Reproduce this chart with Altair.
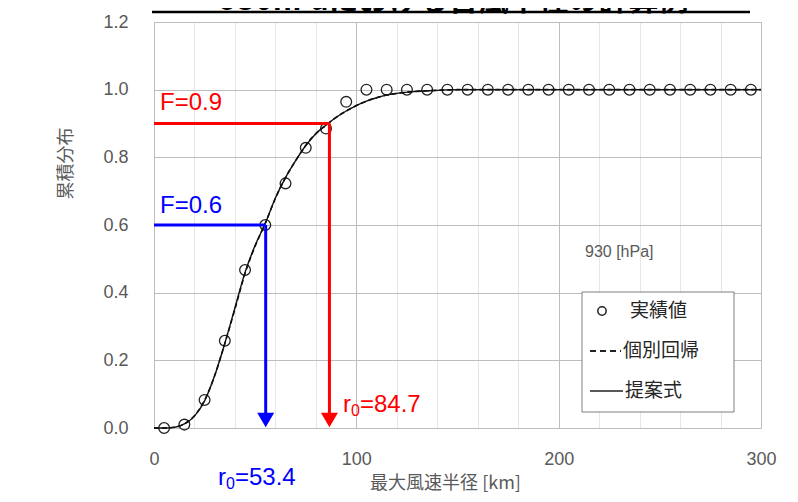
import altair as alt
import pandas as pd

# ---------------- data ----------------
obs_x = [5, 15, 25, 35, 45, 55, 65, 75, 85, 95, 105, 115, 125, 135, 145, 155, 165, 175,
         185, 195, 205, 215, 225, 235, 245, 255, 265, 275, 285, 295]
obs_y = [0.0, 0.01, 0.083, 0.258, 0.467, 0.6, 0.723, 0.828, 0.885, 0.964, 1.0, 1.0, 1.0, 1.0,
         1.0, 1.0, 1.0, 1.0, 1.0, 1.0, 1.0, 1.0, 1.0, 1.0, 1.0, 1.0, 1.0, 1.0, 1.0, 1.0]

curve_x = [0, 5, 10, 15, 20, 25, 30, 35, 40, 45, 50, 55, 60, 65, 70, 75, 80, 85, 90, 95,
           100, 105, 110, 115, 120, 130, 140, 150, 200, 250, 300]
fit_y = [0.0, 0.0, 0.002, 0.012, 0.036, 0.082, 0.155, 0.25, 0.352, 0.457, 0.538, 0.605,
         0.679, 0.74, 0.79, 0.835, 0.87, 0.895, 0.918, 0.937, 0.953, 0.966, 0.976, 0.984,
         0.989, 0.995, 0.998, 1.0, 1.0, 1.0, 1.0]
prop_y = [0.0, 0.0, 0.002, 0.012, 0.035, 0.08, 0.155, 0.25, 0.355, 0.46, 0.54, 0.605,
          0.68, 0.74, 0.79, 0.835, 0.87, 0.895, 0.918, 0.937, 0.953, 0.966, 0.976, 0.984,
          0.989, 0.995, 0.998, 1.0, 1.0, 1.0, 1.0]

levels_F = [0.6, 0.9]
levels_r = [55.2, 86.7]
level_colors = ["#0000ff", "#ff0000"]

f_labels = ["F=0.6", "F=0.9"]
f_label_x = [3.0, 3.0]
f_label_y = [0.656, 0.96]

r_values = ["=53.4", "=84.7"]
r_label_x = [31.6, 93.4]
r_label_y = [-0.148, 0.068]

x_ticks = list(range(0, 301, 10))
y_ticks = [0.0, 0.1, 0.2, 0.3, 0.4, 0.5, 0.6, 0.7, 0.8, 0.9, 1.0, 1.1, 1.2]

title_text = "930hPaにおける台風半径の計算例"
legend_labels = ["実績値", "個別回帰", "提案式"]
pressure_label = "930 [hPa]"

W, H = 607, 406
FONT = "Liberation Sans"
JFONT = "Noto Sans CJK JP"

# ---------------- frames ----------------
obs = pd.DataFrame({"x": obs_x, "y": obs_y})
curves = pd.DataFrame({"x": curve_x, "fit": fit_y, "prop": prop_y})

hseg = pd.DataFrame({"x": [0, 0], "x2": levels_r, "y": levels_F, "c": level_colors})
vseg = pd.DataFrame({"x": levels_r, "y": levels_F, "y2": [0.02, 0.02], "c": level_colors})
arrows = pd.DataFrame({"x": levels_r, "y": [0.0, 0.0], "c": level_colors})
flab = pd.DataFrame({"t": f_labels, "x": f_label_x, "y": f_label_y, "c": level_colors})
rlab = pd.DataFrame({"t": r_values, "x": r_label_x, "y": r_label_y, "c": level_colors})

xs = alt.Scale(domain=[0, 300], nice=False, zero=False)
ys = alt.Scale(domain=[0, 1.2], nice=False, zero=False)

x_axis = alt.Axis(
    values=x_ticks,
    labelExpr="datum.value % 50 === 0 ? datum.label : ''",
    grid=True,
    gridColor=alt.condition("datum.value % 50 === 0", alt.value("#bdbdbd"), alt.value("#e6e6e6")),
    gridWidth=1,
    ticks=False, tickSize=0, domain=False,
    labelFont=FONT, labelFontSize=18, labelColor="#595959", labelPadding=22,
    labelOverlap=False, labelFlush=False, labelBound=False,
    title="最大風速半径 [km]", titleFont=JFONT, titleFontSize=18, titleFontWeight="normal",
    titleColor="#595959", titleX=291, titleY=55, titleBaseline="middle",
)
y_axis = alt.Axis(
    values=y_ticks,
    labelExpr="round(datum.value * 10) % 2 === 0 ? format(datum.value, '.1f') : ''",
    grid=True,
    gridColor=alt.condition("round(datum.value * 10) % 2 === 0", alt.value("#bdbdbd"), alt.value("#e6e6e6")),
    gridWidth=1,
    ticks=False, tickSize=0, domain=False,
    labelFont=FONT, labelFontSize=18, labelColor="#595959", labelPadding=26,
    labelOverlap=False, labelFlush=False, labelBound=False,
    title="累積分布", titleFont=JFONT, titleFontSize=18, titleFontWeight="normal",
    titleColor="#595959", titleX=-88, titleY=141, titleAngle=-90, titleBaseline="middle",
    titleAlign="center",
)

base_obs = alt.Chart(obs).mark_point(
    shape="circle", filled=False, color="#222222", strokeWidth=1.3, size=115, opacity=1
).encode(
    x=alt.X("x:Q", scale=xs, axis=x_axis),
    y=alt.Y("y:Q", scale=ys, axis=y_axis),
)

prop_line = alt.Chart(curves).mark_line(
    color="#111111", strokeWidth=1.4, interpolate="monotone"
).encode(x=alt.X("x:Q", scale=xs), y=alt.Y("prop:Q", scale=ys))

fit_line = alt.Chart(curves).mark_line(
    color="#000000", strokeWidth=1.6, strokeDash=[5, 3], interpolate="monotone"
).encode(x=alt.X("x:Q", scale=xs), y=alt.Y("fit:Q", scale=ys))

h_rules = alt.Chart(hseg).mark_rule(strokeWidth=3).encode(
    x=alt.X("x:Q", scale=xs), x2="x2:Q", y=alt.Y("y:Q", scale=ys),
    color=alt.Color("c:N", scale=None),
)
v_rules = alt.Chart(vseg).mark_rule(strokeWidth=3).encode(
    x=alt.X("x:Q", scale=xs), y=alt.Y("y:Q", scale=ys), y2="y2:Q",
    color=alt.Color("c:N", scale=None),
)
arrow_heads = alt.Chart(arrows).mark_point(
    shape="triangle-down", filled=True, size=290, yOffset=-8, opacity=1
).encode(
    x=alt.X("x:Q", scale=xs), y=alt.Y("y:Q", scale=ys),
    color=alt.Color("c:N", scale=None),
)

f_text = alt.Chart(flab).mark_text(
    align="left", baseline="middle", font=FONT, fontSize=24
).encode(
    x=alt.X("x:Q", scale=xs), y=alt.Y("y:Q", scale=ys), text="t:N",
    color=alt.Color("c:N", scale=None),
)
r_main = alt.Chart(rlab).mark_text(
    align="left", baseline="middle", font=FONT, fontSize=24, text="r"
).encode(
    x=alt.X("x:Q", scale=xs), y=alt.Y("y:Q", scale=ys),
    color=alt.Color("c:N", scale=None),
)
r_sub = alt.Chart(rlab).mark_text(
    align="left", baseline="middle", font=FONT, fontSize=16, text="0", dx=8, dy=6
).encode(
    x=alt.X("x:Q", scale=xs), y=alt.Y("y:Q", scale=ys),
    color=alt.Color("c:N", scale=None),
)
r_rest = alt.Chart(rlab).mark_text(
    align="left", baseline="middle", font=FONT, fontSize=24, dx=17
).encode(
    x=alt.X("x:Q", scale=xs), y=alt.Y("y:Q", scale=ys), text="t:N",
    color=alt.Color("c:N", scale=None),
)

# pressure label and legend box (guide elements positioned in pixels)
press = alt.Chart(pd.DataFrame({"t": [pressure_label]})).mark_text(
    align="left", baseline="middle", font=FONT, fontSize=16, color="#595959"
).encode(x=alt.value(431), y=alt.value(230), text="t:N")

leg_box = alt.Chart(pd.DataFrame({"a": [0]})).mark_rect(
    fill="white", stroke="#7f7f7f", strokeWidth=1
).encode(x=alt.value(428), x2=alt.value(580), y=alt.value(270), y2=alt.value(390))
leg_circle = alt.Chart(pd.DataFrame({"a": [0]})).mark_point(
    shape="circle", filled=False, color="#222222", strokeWidth=1.5, size=70, opacity=1
).encode(x=alt.value(448), y=alt.value(289))
leg_dash = alt.Chart(pd.DataFrame({"a": [0]})).mark_rule(
    color="#222222", strokeWidth=2, strokeDash=[6, 4]
).encode(x=alt.value(436), x2=alt.value(467), y=alt.value(329))
leg_solid = alt.Chart(pd.DataFrame({"a": [0]})).mark_rule(
    color="#222222", strokeWidth=1.5
).encode(x=alt.value(436), x2=alt.value(469), y=alt.value(369))
leg_text = alt.Chart(pd.DataFrame({
    "t": legend_labels, "px": [476, 469, 471], "py": [289, 329, 369]
})).mark_text(
    align="left", baseline="middle", font=JFONT, fontSize=19, color="#262626"
).encode(x=alt.X("px:Q", scale=None), y=alt.Y("py:Q", scale=None), text="t:N")

# page title (mostly above the visible area, as in the reference)
title_t = alt.Chart(pd.DataFrame({"t": [title_text]})).mark_text(
    align="center", baseline="alphabetic", font=JFONT, fontSize=30, fontWeight="bold",
    color="#000000"
).encode(x=alt.value(300), y=alt.value(-12), text="t:N")
title_ul = alt.Chart(pd.DataFrame({"a": [0]})).mark_rule(
    color="#000000", strokeWidth=2.5
).encode(x=alt.value(-2), x2=alt.value(596), y=alt.value(-10))

chart = alt.layer(
    base_obs, fit_line, prop_line, h_rules, v_rules, arrow_heads,
    f_text, r_main, r_sub, r_rest, press, leg_box, leg_circle, leg_dash, leg_solid,
    leg_text, title_t, title_ul,
).properties(
    width=W, height=H,
    autosize=alt.AutoSizeParams(type="none"),
    padding={"left": 146, "top": 14, "right": 28, "bottom": 64},
).configure_view(
    stroke="#8c8c8c", strokeWidth=1
).configure(
    background="white"
)

chart.save("out.html", embed_options={"renderer": "svg", "actions": False})
